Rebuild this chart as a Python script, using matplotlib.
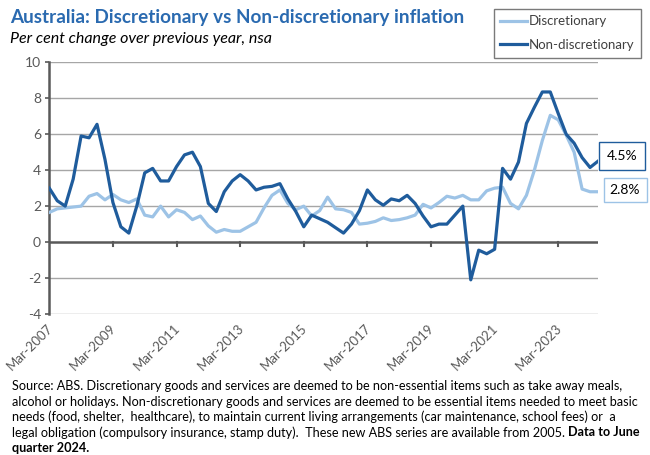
import numpy as np
import matplotlib
matplotlib.use("Agg")
import matplotlib.pyplot as plt
from matplotlib.lines import Line2D

# Quarterly data, Mar-2007 to Jun-2024 (per cent change over previous year)
discretionary = [
    1.65, 1.85, 1.9, 1.95, 2.0, 2.55, 2.7, 2.35, 2.65, 2.35,
    2.2, 2.4, 1.5, 1.4, 2.0, 1.4, 1.8, 1.65, 1.25, 1.45,
    0.9, 0.55, 0.7, 0.6, 0.6, 0.85, 1.1, 1.9, 2.6, 2.9,
    2.15, 1.8, 2.0, 1.45, 1.75, 2.5, 1.85, 1.8, 1.65, 1.0,
    1.05, 1.15, 1.35, 1.2, 1.25, 1.35, 1.5, 2.1, 1.9, 2.2,
    2.55, 2.45, 2.6, 2.35, 2.35, 2.85, 3.0, 3.05, 2.15, 1.85,
    2.6, 4.0, 5.65, 7.05, 6.8, 5.95, 5.0, 2.95, 2.8, 2.8,
]
non_discretionary = [
    3.0, 2.3, 2.0, 3.5, 5.9, 5.8, 6.55, 4.6, 2.2, 0.85,
    0.5, 2.0, 3.85, 4.1, 3.4, 3.4, 4.2, 4.85, 5.0, 4.2,
    2.15, 1.7, 2.8, 3.4, 3.75, 3.4, 2.9, 3.05, 3.1, 3.25,
    2.4, 1.7, 0.85, 1.5, 1.3, 1.1, 0.8, 0.5, 1.0, 1.75,
    2.9, 2.35, 2.05, 2.4, 2.3, 2.6, 2.15, 1.45, 0.85, 1.0,
    1.0, 1.5, 2.0, -2.1, -0.45, -0.65, -0.4, 4.1, 3.5, 4.45,
    6.6, 7.5, 8.35, 8.35, 7.15, 6.0, 5.5, 4.7, 4.15, 4.5,
]
tick_labels = ["Mar-2007", "Mar-2009", "Mar-2011", "Mar-2013", "Mar-2015",
               "Mar-2017", "Mar-2019", "Mar-2021", "Mar-2023"]
y_ticks = [-4, -2, 0, 2, 4, 6, 8, 10]

dark = "#1f5c9c"
light = "#9dc3e6"
axis_grey = "#595959"

plt.rcParams["font.family"] = ["Lato", "DejaVu Sans"]

fig = plt.figure(figsize=(6.5, 4.55), dpi=100)
ax = fig.add_axes([49.3 / 650, 1 - 314 / 455, (598 - 49.3) / 650, (314 - 62.3) / 455])

x = np.arange(len(discretionary))
ax.plot(x, discretionary, color=light, lw=2.3, solid_joinstyle="round", zorder=3)
ax.plot(x, non_discretionary, color=dark, lw=2.3, solid_joinstyle="round", zorder=4)

ax.set_xlim(0, len(x) - 1)
ax.set_ylim(-4, 10)
ax.set_yticks(y_ticks)
ax.set_yticklabels([str(v) for v in y_ticks])
ax.tick_params(axis="y", length=3, width=1.2, color=axis_grey, labelcolor=axis_grey,
               labelsize=10, pad=3)

# gridlines
for v in y_ticks:
    if v != 0:
        ax.axhline(v, color="#a6a6a6", lw=1.0, zorder=1)
ax.axhline(0, color=axis_grey, lw=1.8, zorder=2)

for s in ["top", "right", "bottom"]:
    ax.spines[s].set_visible(False)
ax.spines["left"].set_color(axis_grey)
ax.spines["left"].set_linewidth(1.8)

# x ticks: marks on the zero line, labels below the plot
tick_pos = x[::8]
ax.set_xticks(tick_pos)
ax.set_xticklabels([])
ax.tick_params(axis="x", length=0)
for p in tick_pos[1:]:
    ax.plot([p, p], [0, -0.22], color=axis_grey, lw=1.5, zorder=2, clip_on=False)
for p, lab in zip(tick_pos, tick_labels):
    ax.annotate(lab, xy=(p, -4), xytext=(-2, -6), textcoords="offset points",
                rotation=45, ha="right", va="top", rotation_mode="anchor",
                fontsize=9.5, color=axis_grey, annotation_clip=False)

# title and subtitle
fig.text(10 / 650, 1 - 17 / 455, "Australia: Discretionary vs Non-discretionary inflation",
         fontsize=13.6, fontweight="bold", color="#2a6ab0", va="center", ha="left")
fig.text(10 / 650, 1 - 39 / 455, "Per cent change over previous year, nsa",
         fontsize=11.5, style="italic", color="black", va="center", ha="left")

# legend
handles = [Line2D([], [], color=light, lw=2.3), Line2D([], [], color=dark, lw=2.3)]
leg = fig.legend(handles, ["Discretionary", "Non-discretionary"],
                 loc="upper right", bbox_to_anchor=(648 / 650, 1 - 2 / 455),
                 frameon=True, fancybox=False, fontsize=9.5, handlelength=2.0,
                 handletextpad=0.2, labelspacing=0.9, borderpad=0.5)
leg.get_frame().set_edgecolor(axis_grey)
leg.get_frame().set_linewidth(1.0)
for t in leg.get_texts():
    t.set_color("#404040")

# end value labels
fig.text(622 / 650, 1 - 156 / 455, f"{non_discretionary[-1]:.1f}%", fontsize=10,
         ha="center", va="center",
         bbox=dict(boxstyle="square,pad=0.55", fc="white", ec=dark, lw=1.0))
fig.text(625 / 650, 1 - 190 / 455, f"{discretionary[-1]:.1f}%", fontsize=10,
         ha="center", va="center",
         bbox=dict(boxstyle="square,pad=0.45", fc="white", ec=light, lw=1.0))

# footnote - size chosen so the widest line spans the same width as the reference
lines = [
    "Source: ABS. Discretionary goods and services are deemed to be non-essential items such as take away meals,",
    "alcohol or holidays. Non-discretionary goods and services are deemed to be essential items needed to meet basic",
    "needs (food, shelter,  healthcare), to maintain current living arrangements (car maintenance, school fees) or  a",
    "legal obligation (compulsory insurance, stamp duty).  These new ABS series are available from 2005. ",
]
renderer = fig.canvas.get_renderer()
probe = fig.text(0, 0, lines[1], fontsize=10)
w = probe.get_window_extent(renderer).width
probe.remove()
note_size = 10 * 628 / w

y0 = 386
step = 15.5
for i, line in enumerate(lines):
    last = fig.text(12 / 650, 1 - (y0 + step * i) / 455, line, fontsize=note_size,
                    va="center", ha="left")

bb = last.get_window_extent(renderer)
fig.text(bb.x1 / fig.bbox.width, 1 - (y0 + step * 3) / 455, "Data to June",
         fontsize=note_size, fontweight="bold", va="center", ha="left")
fig.text(12 / 650, 1 - (y0 + step * 4) / 455, "quarter 2024.", fontsize=note_size,
         fontweight="bold", va="center", ha="left")

fig.savefig("out.png", dpi=100, facecolor="white")
